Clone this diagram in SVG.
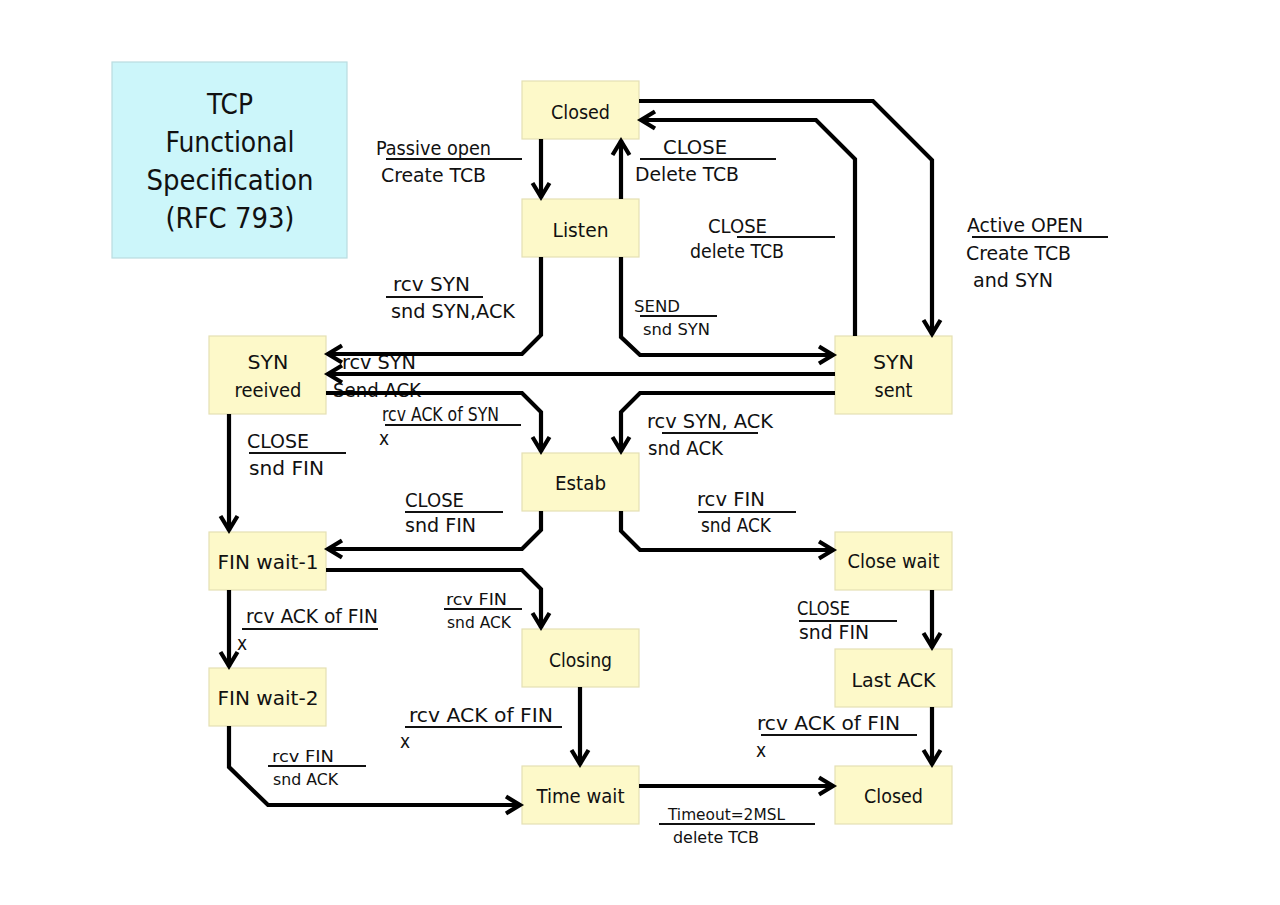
<svg xmlns="http://www.w3.org/2000/svg" width="1280" height="905" viewBox="0 0 1280 905">
<style>
.node{fill:#fdf9c9;stroke:#e4e0b4;stroke-width:1.2}
.title{fill:#ccf6fa;stroke:#b9dde0;stroke-width:1.2}
text{font-family:"DejaVu Sans Condensed","DejaVu Sans","Liberation Sans",sans-serif;fill:#111}
.tt{font-size:28px;text-anchor:middle}
.nt{font-size:19.5px;text-anchor:middle}
.lb{font-size:20px}
.sm{font-size:16.5px}
.xx{font-size:19px}
.ul{stroke:#111;stroke-width:2}
.cn{fill:none;stroke:#000;stroke-width:4.2;stroke-linejoin:miter}
</style>
<defs>
<marker id="ah" viewBox="0 0 22 20" markerWidth="22" markerHeight="20" markerUnits="userSpaceOnUse" refX="19" refY="10" orient="auto" overflow="visible">
<path d="M4,1.5 L18,10 L4,18.5" fill="none" stroke="#000" stroke-width="4.2"/>
</marker>
</defs>
<rect width="1280" height="905" fill="#fff"/>

<g id="title">
<rect class="title" x="112" y="62" width="235" height="196"/>
<text class="tt" x="230" y="114" textLength="46" lengthAdjust="spacingAndGlyphs">TCP</text>
<text class="tt" x="230" y="152" textLength="129" lengthAdjust="spacingAndGlyphs">Functional</text>
<text class="tt" x="230" y="190" textLength="167" lengthAdjust="spacingAndGlyphs">Specification</text>
<text class="tt" x="230" y="228" textLength="129" lengthAdjust="spacingAndGlyphs">(RFC 793)</text>
</g>

<g id="closed-top"><rect class="node" x="522" y="81" width="117" height="58"/><text class="nt" x="580.5" y="119" textLength="59" lengthAdjust="spacingAndGlyphs">Closed</text></g>
<g id="listen"><rect class="node" x="522" y="199" width="117" height="58"/><text class="nt" x="580.5" y="237" textLength="56" lengthAdjust="spacingAndGlyphs">Listen</text></g>
<g id="syn-received"><rect class="node" x="209" y="336" width="117" height="78"/><text class="nt" x="268" y="369" textLength="41" lengthAdjust="spacingAndGlyphs">SYN</text><text class="nt" x="268" y="397" textLength="67" lengthAdjust="spacingAndGlyphs">reeived</text></g>
<g id="syn-sent"><rect class="node" x="835" y="336" width="117" height="78"/><text class="nt" x="893.5" y="369" textLength="41" lengthAdjust="spacingAndGlyphs">SYN</text><text class="nt" x="893.5" y="397" textLength="38" lengthAdjust="spacingAndGlyphs">sent</text></g>
<g id="estab"><rect class="node" x="522" y="453" width="117" height="58"/><text class="nt" x="580.5" y="490" textLength="51" lengthAdjust="spacingAndGlyphs">Estab</text></g>
<g id="fin-wait-1"><rect class="node" x="209" y="532" width="117" height="58"/><text class="nt" x="268" y="569" textLength="101" lengthAdjust="spacingAndGlyphs">FIN wait-1</text></g>
<g id="close-wait"><rect class="node" x="835" y="532" width="117" height="58"/><text class="nt" x="893.5" y="568" textLength="92" lengthAdjust="spacingAndGlyphs">Close wait</text></g>
<g id="closing"><rect class="node" x="522" y="629" width="117" height="58"/><text class="nt" x="580.5" y="667" textLength="63" lengthAdjust="spacingAndGlyphs">Closing</text></g>
<g id="fin-wait-2"><rect class="node" x="209" y="668" width="117" height="58"/><text class="nt" x="268" y="705" textLength="101" lengthAdjust="spacingAndGlyphs">FIN wait-2</text></g>
<g id="last-ack"><rect class="node" x="835" y="649" width="117" height="58"/><text class="nt" x="893.5" y="687" textLength="84" lengthAdjust="spacingAndGlyphs">Last ACK</text></g>
<g id="time-wait"><rect class="node" x="522" y="766" width="117" height="58"/><text class="nt" x="580.5" y="803" textLength="88" lengthAdjust="spacingAndGlyphs">Time wait</text></g>
<g id="closed-bottom"><rect class="node" x="835" y="766" width="117" height="58"/><text class="nt" x="893.5" y="803" textLength="59" lengthAdjust="spacingAndGlyphs">Closed</text></g>

<g id="labels">
<text class="lb" x="376" y="155" textLength="115" lengthAdjust="spacingAndGlyphs">Passive open</text>
<line class="ul" x1="386" y1="159" x2="522" y2="159"/>
<text class="lb" x="381" y="182" textLength="105" lengthAdjust="spacingAndGlyphs">Create TCB</text>

<text class="lb" x="663" y="154" textLength="64" lengthAdjust="spacingAndGlyphs">CLOSE</text>
<line class="ul" x1="640" y1="159" x2="776" y2="159"/>
<text class="lb" x="635" y="181" textLength="104" lengthAdjust="spacingAndGlyphs">Delete TCB</text>

<text class="lb" x="708" y="233" textLength="59" lengthAdjust="spacingAndGlyphs">CLOSE</text>
<line class="ul" x1="737" y1="237" x2="835" y2="237"/>
<text class="lb" x="690" y="258" textLength="94" lengthAdjust="spacingAndGlyphs">delete TCB</text>

<text class="lb" x="967" y="232" textLength="116" lengthAdjust="spacingAndGlyphs">Active OPEN</text>
<line class="ul" x1="972" y1="237" x2="1108" y2="237"/>
<text class="lb" x="966" y="260" textLength="105" lengthAdjust="spacingAndGlyphs">Create TCB</text>
<text class="lb" x="973" y="287" textLength="80" lengthAdjust="spacingAndGlyphs">and SYN</text>

<text class="lb" x="393" y="291" textLength="77" lengthAdjust="spacingAndGlyphs">rcv SYN</text>
<line class="ul" x1="386" y1="297" x2="483" y2="297"/>
<text class="lb" x="391" y="318" textLength="124" lengthAdjust="spacingAndGlyphs">snd SYN,ACK</text>

<text class="sm" x="634" y="312" textLength="46" lengthAdjust="spacingAndGlyphs">SEND</text>
<line class="ul" x1="640" y1="316" x2="717" y2="316"/>
<text class="sm" x="643" y="335" textLength="67" lengthAdjust="spacingAndGlyphs">snd SYN</text>

<text class="lb" x="342" y="369" textLength="74" lengthAdjust="spacingAndGlyphs">rcv SYN</text>
<text class="lb" x="333" y="397" textLength="88" lengthAdjust="spacingAndGlyphs">Send ACK</text>

<text class="lb" x="382" y="421" textLength="117" lengthAdjust="spacingAndGlyphs">rcv ACK of SYN</text>
<line class="ul" x1="385" y1="425" x2="521" y2="425"/>
<text class="xx" x="379" y="445">x</text>

<text class="lb" x="647" y="428" textLength="126" lengthAdjust="spacingAndGlyphs">rcv SYN, ACK</text>
<line class="ul" x1="662" y1="433" x2="758" y2="433"/>
<text class="lb" x="648" y="455" textLength="75" lengthAdjust="spacingAndGlyphs">snd ACK</text>

<text class="lb" x="247" y="448" textLength="62" lengthAdjust="spacingAndGlyphs">CLOSE</text>
<line class="ul" x1="249" y1="453" x2="346" y2="453"/>
<text class="lb" x="249" y="475" textLength="75" lengthAdjust="spacingAndGlyphs">snd FIN</text>

<text class="lb" x="405" y="507" textLength="59" lengthAdjust="spacingAndGlyphs">CLOSE</text>
<line class="ul" x1="405" y1="512" x2="503" y2="512"/>
<text class="lb" x="405" y="532" textLength="71" lengthAdjust="spacingAndGlyphs">snd FIN</text>

<text class="lb" x="697" y="506" textLength="68" lengthAdjust="spacingAndGlyphs">rcv FIN</text>
<line class="ul" x1="698" y1="512" x2="796" y2="512"/>
<text class="lb" x="701" y="532" textLength="70" lengthAdjust="spacingAndGlyphs">snd ACK</text>

<text class="lb" x="246" y="623" textLength="132" lengthAdjust="spacingAndGlyphs">rcv ACK of FIN</text>
<line class="ul" x1="242" y1="629" x2="378" y2="629"/>
<text class="xx" x="237" y="650">x</text>

<text class="sm" x="446" y="605" textLength="61" lengthAdjust="spacingAndGlyphs">rcv FIN</text>
<line class="ul" x1="444" y1="609" x2="522" y2="609"/>
<text class="sm" x="447" y="628" textLength="64" lengthAdjust="spacingAndGlyphs">snd ACK</text>

<text class="lb" x="797" y="615" textLength="53" lengthAdjust="spacingAndGlyphs">CLOSE</text>
<line class="ul" x1="799" y1="621" x2="897" y2="621"/>
<text class="lb" x="799" y="639" textLength="70" lengthAdjust="spacingAndGlyphs">snd FIN</text>

<text class="lb" x="409" y="722" textLength="144" lengthAdjust="spacingAndGlyphs">rcv ACK of FIN</text>
<line class="ul" x1="405" y1="727" x2="562" y2="727"/>
<text class="xx" x="400" y="748">x</text>

<text class="sm" x="272" y="762" textLength="62" lengthAdjust="spacingAndGlyphs">rcv FIN</text>
<line class="ul" x1="268" y1="766" x2="366" y2="766"/>
<text class="sm" x="273" y="785" textLength="65" lengthAdjust="spacingAndGlyphs">snd ACK</text>

<text class="lb" x="757" y="730" textLength="143" lengthAdjust="spacingAndGlyphs">rcv ACK of FIN</text>
<line class="ul" x1="761" y1="735" x2="917" y2="735"/>
<text class="xx" x="756" y="757">x</text>

<text class="sm" x="668" y="820" textLength="117" lengthAdjust="spacingAndGlyphs">Timeout=2MSL</text>
<line class="ul" x1="659" y1="824" x2="815" y2="824"/>
<text class="sm" x="673" y="843" textLength="86" lengthAdjust="spacingAndGlyphs">delete TCB</text>
</g>

<g id="connectors" class="cn">
<path class="cn" marker-end="url(#ah)" d="M541,139 V198"/>
<path class="cn" marker-end="url(#ah)" d="M621,199 V140"/>
<path class="cn" marker-end="url(#ah)" d="M639,101 H873 L932,160 V335"/>
<path class="cn" marker-end="url(#ah)" d="M855,336 V159 L816,120 H640"/>
<path class="cn" marker-end="url(#ah)" d="M621,257 V337 L640,355 H834"/>
<path class="cn" marker-end="url(#ah)" d="M541,257 V335 L522,354 H327"/>
<path class="cn" marker-end="url(#ah)" d="M835,374 H327"/>
<path class="cn" marker-end="url(#ah)" d="M326,393 H522 L541,412 V452"/>
<path class="cn" marker-end="url(#ah)" d="M835,393 H640 L621,412 V452"/>
<path class="cn" marker-end="url(#ah)" d="M229,414 V531"/>
<path class="cn" marker-end="url(#ah)" d="M541,511 V530 L522,549 H327"/>
<path class="cn" marker-end="url(#ah)" d="M621,511 V531 L640,550 H834"/>
<path class="cn" marker-end="url(#ah)" d="M326,570 H522 L541,589 V628"/>
<path class="cn" marker-end="url(#ah)" d="M229,590 V667"/>
<path class="cn" marker-end="url(#ah)" d="M580,687 V765"/>
<path class="cn" marker-end="url(#ah)" d="M229,726 V767 L268,805 H521"/>
<path class="cn" marker-end="url(#ah)" d="M639,786 H834"/>
<path class="cn" marker-end="url(#ah)" d="M932,590 V648"/>
<path class="cn" marker-end="url(#ah)" d="M932,707 V765"/>
</g>
</svg>
